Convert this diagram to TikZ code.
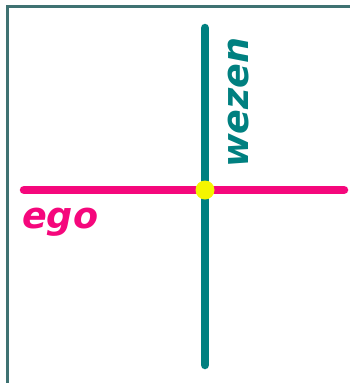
\documentclass[tikz,border=0pt]{standalone}
\usepackage{fontspec}
\setmainfont{DejaVu Sans}
\definecolor{frame}{HTML}{3F7272}
\definecolor{tealc}{HTML}{008080}
\definecolor{pinkc}{HTML}{F5077C}
\definecolor{yel}{HTML}{F5F500}
\tikzset{
  axis/.style={line width=8.5pt, line cap=round},
  lbl/.style={font=\fontsize{36.5}{36.5}\selectfont\bfseries\itshape, inner sep=0pt},
}
\begin{document}
\begin{tikzpicture}[x=1pt,y=-1pt]
\useasboundingbox (0,0) rectangle (349,383);
\fill[white] (0,0) rectangle (349,383);
\draw[frame, line width=3pt] (7,384) -- (7,6) -- (350,6);
\coordinate (vt) at (205,28);
\coordinate (vb) at (205,365);
\coordinate (hl) at (24,190);
\coordinate (hr) at (344,190);
\draw[axis, tealc] (vt) -- (vb);
\draw[axis, pinkc] (hl) -- (hr);
\node[circle, fill=yel, minimum size=19pt, inner sep=0pt] (c) at (205,190) {};
\node[lbl, text=tealc, rotate=90, anchor=base west] (w) at (248,168) {wezen};
\node[lbl, text=pinkc, anchor=base west] (e) at (22,228) {ego};
\end{tikzpicture}
\end{document}
